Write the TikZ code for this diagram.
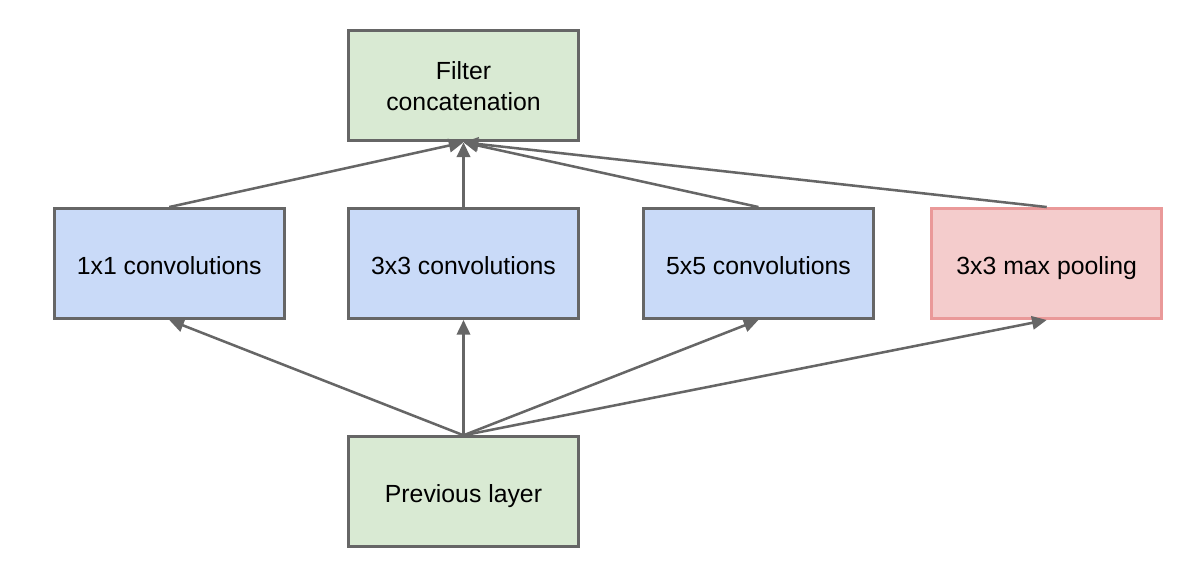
\documentclass[tikz,border=0pt]{standalone}
\usepackage{fontspec}
\setmainfont{Liberation Sans}
\usetikzlibrary{positioning,arrows.meta}

\definecolor{boxgreen}{HTML}{D9EAD3}
\definecolor{boxblue}{HTML}{C9DAF8}
\definecolor{boxred}{HTML}{F4CCCC}
\definecolor{edgered}{HTML}{EA9999}
\definecolor{linegray}{HTML}{666666}

\begin{document}
\begin{tikzpicture}[x=0.75pt, y=-0.75pt,
    layer/.style={rectangle, draw=linegray, line width=2.2pt, fill=boxgreen, minimum width=172.5pt, minimum height=82.5pt, text centered, align=center, font=\fontsize{18.6}{23}\selectfont},
    conv/.style={rectangle, draw=linegray, line width=2.2pt, fill=boxblue, minimum width=172.5pt, minimum height=82.5pt, text height=16.5pt, text depth=0pt, text centered, font=\fontsize{18.6}{23}\selectfont},
    pool/.style={rectangle, draw=edgered, line width=2.2pt, fill=boxred, minimum width=172.5pt, minimum height=82.5pt, text height=16.5pt, text depth=0pt, text centered, font=\fontsize{18.6}{23}\selectfont},
    link/.style={-{Triangle[length=11pt, width=10pt]}, draw=linegray, line width=1.9pt}]

\useasboundingbox (0,0) rectangle (1184,565);

% Middle row
\node[conv] (conv3) at (463.5,263.5) {3x3 convolutions};
\node[conv, left=46pt of conv3] (conv1) {1x1 convolutions};
\node[conv, right=46.5pt of conv3] (conv5) {5x5 convolutions};
\node[pool, right=41.5pt of conv5] (maxpool) {3x3 max pooling};

% Input and output
\node[layer, above=48.5pt of conv3] (concat) {Filter\\concatenation};
\node[layer, below=86.5pt of conv3, text height=16.5pt, text depth=0pt] (prev) {Previous layer};

% Connections
\draw[link] (prev.north) -- (conv1.south);
\draw[link] (prev.north) -- (conv3.south);
\draw[link] (prev.north) -- (conv5.south);
\draw[link] (prev.north) -- (maxpool.south);
\draw[link] (conv1.north) -- (concat.south);
\draw[link] (conv3.north) -- (concat.south);
\draw[link] (conv5.north) -- (concat.south);
\draw[link] (maxpool.north) -- (concat.south);

\end{tikzpicture}
\end{document}
